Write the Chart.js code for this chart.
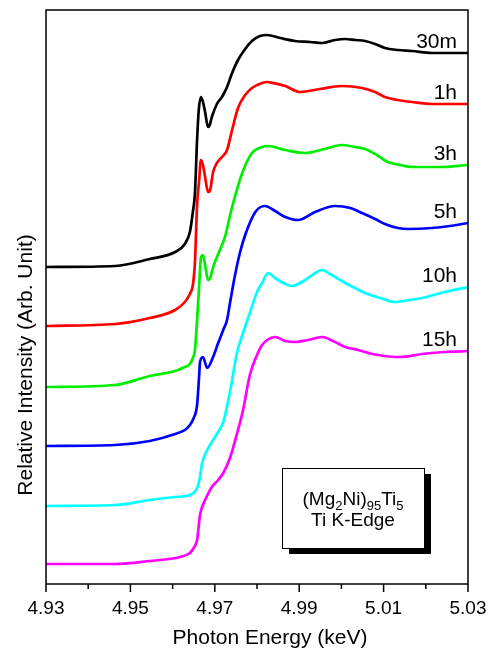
<!DOCTYPE html>
<html>
<head>
<meta charset="utf-8">
<script src="https://cdn.jsdelivr.net/npm/chart.js@4.4.0/dist/chart.umd.min.js"></script>
<style>
  html, body { margin: 0; padding: 0; background: #fff; }
  canvas { display: block; }
</style>
</head>
<body>
<canvas id="xanes" width="490" height="648"></canvas>
<script>
const FONT = '"Liberation Sans", Arial, Helvetica, sans-serif';

// x axis ticks (keV)
const majorTicks = [4.93, 4.95, 4.97, 4.99, 5.01, 5.03];
const minorTicks = [4.94, 4.96, 4.98, 5.00, 5.02];

const sampleNames = ['30m', '1h', '3h', '5h', '10h', '15h'];
const sampleColors = ['#000000', '#ff0000', '#00ee00', '#0000ff', '#00ffff', '#ff00ff'];

// photon energy (keV) and relative intensity (arb. unit, stacked) per milling time
const e30m = [4.9300, 4.9464, 4.9546, 4.9606, 4.9629, 4.9641, 4.9648, 4.9653, 4.9658, 4.9662,
              4.9667, 4.9672, 4.9677, 4.9684, 4.9688, 4.9693, 4.9705, 4.9717, 4.9729, 4.9741,
              4.9755, 4.9772, 4.9788, 4.9807, 4.9824, 4.9855, 4.9890, 4.9926, 4.9954, 4.9985,
              5.0009, 5.0033, 5.0056, 5.0080, 5.0103, 5.0134, 5.0167, 5.0215, 5.0257, 5.0300];
const i30m = [317, 318, 325, 332, 340, 352, 372, 391, 444, 474,
              487, 482, 472, 457, 459, 467, 480, 487, 497, 511,
              524, 535, 543, 548, 549, 546, 543, 542, 541, 544,
              545, 544, 543, 540, 536, 534, 533, 531, 531, 531];

const e1h = [4.9300, 4.9464, 4.9546, 4.9606, 4.9629, 4.9641, 4.9648, 4.9653, 4.9658, 4.9663,
             4.9667, 4.9672, 4.9677, 4.9684, 4.9689, 4.9696, 4.9705, 4.9717, 4.9729, 4.9741,
             4.9755, 4.9772, 4.9788, 4.9812, 4.9824, 4.9838, 4.9867, 4.9902, 4.9949, 5.0001,
             5.0049, 5.0080, 5.0103, 5.0134, 5.0167, 5.0215, 5.0257, 5.0300];
const i1h = [258, 260, 266, 274, 282, 290, 299, 322, 379, 404,
             424, 419, 407, 392, 394, 412, 421, 427, 434, 454,
             476, 489, 496, 501, 502, 501, 498, 492, 495, 498,
             496, 492, 487, 484, 482, 480, 480, 480];

const e3h = [4.9300, 4.9464, 4.9546, 4.9606, 4.9629, 4.9641, 4.9648, 4.9653, 4.9658, 4.9663,
             4.9667, 4.9672, 4.9677, 4.9684, 4.9689, 4.9696, 4.9708, 4.9724, 4.9741, 4.9765,
             4.9788, 4.9812, 4.9826, 4.9867, 4.9914, 4.9961, 5.0001, 5.0032, 5.0056, 5.0084,
             5.0110, 5.0139, 5.0167, 5.0233, 5.0300];
const i3h = [197, 199, 208, 213, 217, 220, 226, 234, 264, 299,
             326, 329, 319, 304, 306, 317, 330, 347, 377, 411,
             431, 437, 438, 434, 431, 435, 439, 437, 435, 429,
             422, 419, 417, 417, 419];

const e5h = [4.9300, 4.9464, 4.9546, 4.9606, 4.9629, 4.9641, 4.9650, 4.9658, 4.9663, 4.9665,
             4.9672, 4.9682, 4.9696, 4.9708, 4.9720, 4.9729, 4.9736, 4.9748, 4.9760, 4.9772,
             4.9796, 4.9819, 4.9843, 4.9867, 4.9897, 4.9938, 4.9985, 5.0021, 5.0049, 5.0080,
             5.0103, 5.0134, 5.0158, 5.0215, 5.0257, 5.0300];
const i5h = [138, 139, 143, 150, 154, 159, 166, 179, 209, 222,
             227, 216, 227, 241, 254, 264, 281, 309, 332, 349,
             372, 378, 373, 367, 364, 372, 378, 376, 371, 365,
             360, 356, 355, 356, 358, 361];

const e10h = [4.9300, 4.9464, 4.9546, 4.9606, 4.9641, 4.9658, 4.9665, 4.9670, 4.9682, 4.9705,
              4.9720, 4.9736, 4.9753, 4.9767, 4.9783, 4.9800, 4.9812, 4.9826, 4.9843, 4.9867,
              4.9883, 4.9914, 4.9938, 4.9954, 4.9973, 5.0009, 5.0032, 5.0056, 5.0092, 5.0127,
              5.0162, 5.0191, 5.0245, 5.0300];
const i10h = [78, 79, 84, 87, 89, 96, 107, 121, 134, 150,
              162, 192, 232, 251, 271, 292, 301, 311, 306, 300,
              298, 304, 311, 314, 310, 301, 296, 291, 286, 282,
              284, 286, 292, 297];

const e15h = [4.9300, 4.9464, 4.9546, 4.9618, 4.9641, 4.9650, 4.9658, 4.9665, 4.9670, 4.9677,
              4.9693, 4.9708, 4.9720, 4.9736, 4.9753, 4.9767, 4.9783, 4.9800, 4.9812, 4.9824,
              4.9843, 4.9867, 4.9890, 4.9921, 4.9954, 4.9985, 5.0009, 5.0040, 5.0073, 5.0103,
              5.0134, 5.0162, 5.0191, 5.0245, 5.0300];
const i15h = [20, 20, 23, 27, 31, 36, 44, 69, 77, 84,
              97, 104, 111, 126, 151, 174, 209, 229, 239, 244,
              247, 243, 242, 244, 247, 242, 237, 234, 230, 228,
              227, 228, 230, 232, 233];

const energies = [e30m, e1h, e3h, e5h, e10h, e15h];
const intensities = [i30m, i1h, i3h, i5h, i10h, i15h];

const datasets = sampleNames.map((name, k) => ({
    label: name,
    data: energies[k].map((e, i) => ({ x: e, y: intensities[k][i] })),
    borderColor: sampleColors[k],
    borderWidth: 2.7,
    pointRadius: 0,
    cubicInterpolationMode: 'monotone',
    fill: false
}));

// frame, tick marks, axis titles, curve labels and the sample box
const decorations = {
    id: 'decorations',
    afterDatasetsDraw(chart) {
        const { ctx, chartArea: ca, scales: { x, y } } = chart;
        ctx.save();
        ctx.strokeStyle = '#000';
        ctx.fillStyle = '#000';

        ctx.lineWidth = 1.5;
        ctx.strokeRect(ca.left, ca.top, ca.right - ca.left, ca.bottom - ca.top);

        const tick = (v, len) => {
            const px = x.getPixelForValue(v);
            ctx.beginPath();
            ctx.moveTo(px, ca.bottom);
            ctx.lineTo(px, ca.bottom + len);
            ctx.stroke();
        };
        majorTicks.forEach(v => tick(v, 8));
        minorTicks.forEach(v => tick(v, 5));

        // curve labels sit just above the right end of each curve
        ctx.font = `21px ${FONT}`;
        ctx.textAlign = 'right';
        ctx.textBaseline = 'alphabetic';
        chart.data.datasets.forEach(ds => {
            const last = ds.data[ds.data.length - 1];
            ctx.fillText(ds.label, ca.right - 11, y.getPixelForValue(last.y) - 5);
        });

        // axis titles
        ctx.textAlign = 'center';
        ctx.textBaseline = 'middle';
        ctx.fillText('Photon Energy (keV)', 270, 638);
        ctx.save();
        ctx.translate(32, 365);
        ctx.rotate(-Math.PI / 2);
        ctx.textBaseline = 'alphabetic';
        ctx.fillText('Relative Intensity (Arb. Unit)', 0, 0);
        ctx.restore();

        // sample box with drop shadow
        const bx = ca.left + 236, by = ca.top + 458, bw = 142, bh = 80;
        ctx.fillRect(bx + 7, by + 6, bw, bh);
        ctx.fillStyle = '#fff';
        ctx.fillRect(bx, by, bw, bh);
        ctx.lineWidth = 1;
        ctx.strokeRect(bx + 0.5, by + 0.5, bw, bh);
        ctx.fillStyle = '#000';

        const parts = [['(Mg', 0], ['2', 1], ['Ni)', 0], ['95', 1], ['Ti', 0], ['5', 1]];
        const big = `19px ${FONT}`, small = `13px ${FONT}`;
        let total = 0;
        parts.forEach(([t, sub]) => { ctx.font = sub ? small : big; total += ctx.measureText(t).width; });
        let cx = bx + bw / 2 - total / 2;
        ctx.textAlign = 'left';
        ctx.textBaseline = 'alphabetic';
        parts.forEach(([t, sub]) => {
            ctx.font = sub ? small : big;
            ctx.fillText(t, cx, sub ? by + 42 : by + 37);
            cx += ctx.measureText(t).width;
        });
        ctx.font = big;
        ctx.textAlign = 'center';
        ctx.fillText('Ti K-Edge', bx + bw / 2, by + 58);

        ctx.restore();
    }
};

new Chart(document.getElementById('xanes'), {
    type: 'line',
    data: { datasets: datasets },
    plugins: [decorations],
    options: {
        responsive: false,
        animation: false,
        devicePixelRatio: 1,
        layout: { padding: { top: 10, right: 22, left: 0, bottom: 0 } },
        plugins: {
            legend: { display: false },
            tooltip: { enabled: false }
        },
        scales: {
            x: {
                type: 'linear',
                min: 4.93,
                max: 5.03,
                afterFit: scale => {
                    scale.height = 64;
                    scale.paddingLeft = 0;
                    scale.paddingRight = 0;
                },
                afterBuildTicks: scale => { scale.ticks = majorTicks.map(v => ({ value: v })); },
                grid: { display: false, drawTicks: false },
                border: { display: false },
                ticks: {
                    padding: 13,
                    color: '#000',
                    maxRotation: 0,
                    autoSkip: false,
                    font: { family: FONT, size: 19 },
                    callback: v => v.toFixed(2)
                }
            },
            y: {
                type: 'linear',
                min: 0,
                max: 574,
                afterFit: scale => { scale.width = 46; },
                grid: { display: false, drawTicks: false },
                border: { display: false },
                ticks: { display: false }
            }
        }
    }
});
</script>
</body>
</html>
